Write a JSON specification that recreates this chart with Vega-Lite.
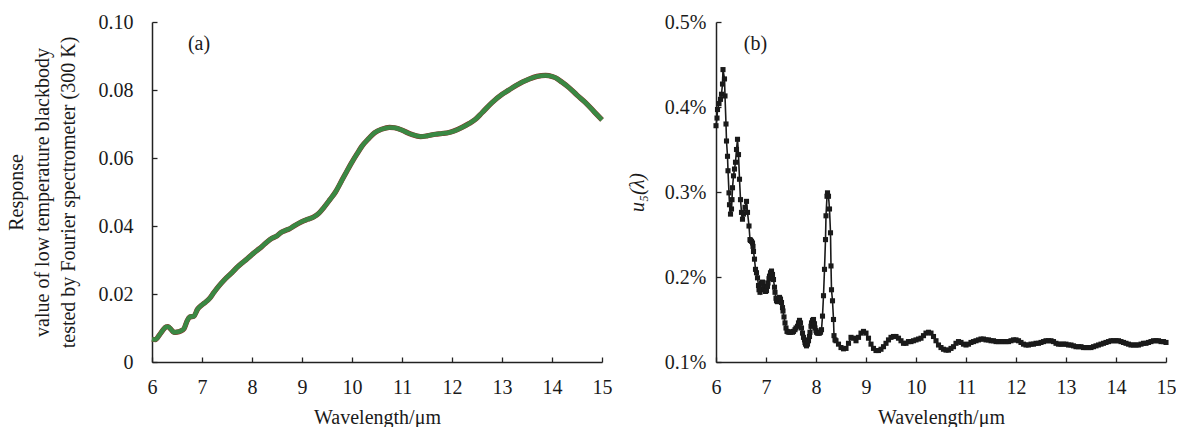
{
  "$schema": "https://vega.github.io/schema/vega-lite/v6.json",
  "padding": {"left": 6, "top": 12, "right": 0, "bottom": 0},
  "background": "white",
  "spacing": 14,
  "config": {
    "view": {"stroke": null},
    "font": "Liberation Serif",
    "axis": {
      "grid": false,
      "domainColor": "#222",
      "domainWidth": 1.5,
      "tickColor": "#222",
      "tickWidth": 1.3,
      "tickSize": -5,
      "labelFlush": false,
      "labelFont": "Liberation Serif",
      "labelFontSize": 20,
      "labelColor": "#1a1a1a",
      "titleFont": "Liberation Serif",
      "titleFontSize": 20,
      "titleFontWeight": "normal",
      "titleColor": "#1a1a1a"
    }
  },
  "datasets": {
    "resp": [
      {"lam": 6.00, "v": 0.0067}, {"lam": 6.07, "v": 0.0066}, {"lam": 6.15, "v": 0.0080}, {"lam": 6.22, "v": 0.0094},
      {"lam": 6.28, "v": 0.0103}, {"lam": 6.32, "v": 0.0104}, {"lam": 6.38, "v": 0.0096}, {"lam": 6.44, "v": 0.0087},
      {"lam": 6.50, "v": 0.0088}, {"lam": 6.57, "v": 0.0091}, {"lam": 6.64, "v": 0.0098}, {"lam": 6.70, "v": 0.0120},
      {"lam": 6.75, "v": 0.0132}, {"lam": 6.84, "v": 0.0135}, {"lam": 6.91, "v": 0.0155}, {"lam": 7.00, "v": 0.0168},
      {"lam": 7.07, "v": 0.0176}, {"lam": 7.14, "v": 0.0185}, {"lam": 7.24, "v": 0.0205}, {"lam": 7.34, "v": 0.0224},
      {"lam": 7.45, "v": 0.0242}, {"lam": 7.60, "v": 0.0263}, {"lam": 7.70, "v": 0.0278}, {"lam": 7.80, "v": 0.0291},
      {"lam": 7.90, "v": 0.0303}, {"lam": 8.00, "v": 0.0316}, {"lam": 8.10, "v": 0.0328}, {"lam": 8.20, "v": 0.0340},
      {"lam": 8.30, "v": 0.0353}, {"lam": 8.40, "v": 0.0364}, {"lam": 8.50, "v": 0.0371}, {"lam": 8.57, "v": 0.0380},
      {"lam": 8.65, "v": 0.0386}, {"lam": 8.74, "v": 0.0391}, {"lam": 8.85, "v": 0.0401}, {"lam": 9.00, "v": 0.0413},
      {"lam": 9.12, "v": 0.0420}, {"lam": 9.24, "v": 0.0427}, {"lam": 9.34, "v": 0.0438}, {"lam": 9.44, "v": 0.0455},
      {"lam": 9.55, "v": 0.0476}, {"lam": 9.67, "v": 0.0500}, {"lam": 9.80, "v": 0.0535}, {"lam": 9.90, "v": 0.0562},
      {"lam": 10.00, "v": 0.0588}, {"lam": 10.10, "v": 0.0612}, {"lam": 10.20, "v": 0.0635}, {"lam": 10.34, "v": 0.0658},
      {"lam": 10.45, "v": 0.0674}, {"lam": 10.60, "v": 0.0685}, {"lam": 10.75, "v": 0.0690}, {"lam": 10.85, "v": 0.0689},
      {"lam": 11.00, "v": 0.0682}, {"lam": 11.10, "v": 0.0675}, {"lam": 11.20, "v": 0.0669}, {"lam": 11.37, "v": 0.0663},
      {"lam": 11.50, "v": 0.0665}, {"lam": 11.67, "v": 0.0670}, {"lam": 11.80, "v": 0.0672}, {"lam": 11.94, "v": 0.0675},
      {"lam": 12.05, "v": 0.0680}, {"lam": 12.20, "v": 0.0690}, {"lam": 12.35, "v": 0.0702}, {"lam": 12.47, "v": 0.0714},
      {"lam": 12.60, "v": 0.0733}, {"lam": 12.80, "v": 0.0763}, {"lam": 13.00, "v": 0.0787}, {"lam": 13.14, "v": 0.0800},
      {"lam": 13.30, "v": 0.0815}, {"lam": 13.54, "v": 0.0832}, {"lam": 13.70, "v": 0.0840}, {"lam": 13.87, "v": 0.0843},
      {"lam": 14.00, "v": 0.0840}, {"lam": 14.07, "v": 0.0836}, {"lam": 14.20, "v": 0.0823}, {"lam": 14.34, "v": 0.0807},
      {"lam": 14.50, "v": 0.0785}, {"lam": 14.67, "v": 0.0763}, {"lam": 14.85, "v": 0.0735}, {"lam": 15.00, "v": 0.0712}
    ],
    "unc": [
      {"lam": 6.00, "u": 0.378}, {"lam": 6.02, "u": 0.387}, {"lam": 6.03, "u": 0.397}, {"lam": 6.06, "u": 0.404},
      {"lam": 6.09, "u": 0.409}, {"lam": 6.11, "u": 0.415}, {"lam": 6.13, "u": 0.427}, {"lam": 6.14, "u": 0.444},
      {"lam": 6.17, "u": 0.433}, {"lam": 6.18, "u": 0.413}, {"lam": 6.20, "u": 0.380}, {"lam": 6.21, "u": 0.360},
      {"lam": 6.23, "u": 0.342}, {"lam": 6.24, "u": 0.325}, {"lam": 6.26, "u": 0.299}, {"lam": 6.27, "u": 0.285},
      {"lam": 6.29, "u": 0.274}, {"lam": 6.31, "u": 0.280}, {"lam": 6.32, "u": 0.291}, {"lam": 6.33, "u": 0.305},
      {"lam": 6.35, "u": 0.319}, {"lam": 6.37, "u": 0.327}, {"lam": 6.39, "u": 0.335}, {"lam": 6.41, "u": 0.350},
      {"lam": 6.43, "u": 0.362}, {"lam": 6.45, "u": 0.344}, {"lam": 6.47, "u": 0.315}, {"lam": 6.49, "u": 0.291},
      {"lam": 6.51, "u": 0.276}, {"lam": 6.53, "u": 0.268}, {"lam": 6.55, "u": 0.274}, {"lam": 6.58, "u": 0.282},
      {"lam": 6.61, "u": 0.289}, {"lam": 6.63, "u": 0.276}, {"lam": 6.66, "u": 0.260}, {"lam": 6.68, "u": 0.244},
      {"lam": 6.69, "u": 0.243}, {"lam": 6.71, "u": 0.242}, {"lam": 6.73, "u": 0.240}, {"lam": 6.74, "u": 0.236},
      {"lam": 6.75, "u": 0.230}, {"lam": 6.77, "u": 0.221}, {"lam": 6.79, "u": 0.209}, {"lam": 6.81, "u": 0.205},
      {"lam": 6.83, "u": 0.199}, {"lam": 6.85, "u": 0.190}, {"lam": 6.86, "u": 0.185}, {"lam": 6.88, "u": 0.182},
      {"lam": 6.89, "u": 0.186}, {"lam": 6.91, "u": 0.193}, {"lam": 6.93, "u": 0.194}, {"lam": 6.94, "u": 0.193},
      {"lam": 6.96, "u": 0.188}, {"lam": 6.97, "u": 0.185}, {"lam": 6.99, "u": 0.183}, {"lam": 7.01, "u": 0.184},
      {"lam": 7.03, "u": 0.189}, {"lam": 7.04, "u": 0.193}, {"lam": 7.06, "u": 0.198}, {"lam": 7.07, "u": 0.201},
      {"lam": 7.09, "u": 0.205}, {"lam": 7.11, "u": 0.207}, {"lam": 7.13, "u": 0.203}, {"lam": 7.15, "u": 0.197},
      {"lam": 7.17, "u": 0.188}, {"lam": 7.18, "u": 0.182}, {"lam": 7.20, "u": 0.175}, {"lam": 7.21, "u": 0.172},
      {"lam": 7.23, "u": 0.171}, {"lam": 7.24, "u": 0.172}, {"lam": 7.26, "u": 0.174}, {"lam": 7.27, "u": 0.176},
      {"lam": 7.29, "u": 0.174}, {"lam": 7.31, "u": 0.170}, {"lam": 7.33, "u": 0.164}, {"lam": 7.34, "u": 0.160},
      {"lam": 7.36, "u": 0.153}, {"lam": 7.38, "u": 0.146}, {"lam": 7.40, "u": 0.140}, {"lam": 7.42, "u": 0.136},
      {"lam": 7.44, "u": 0.1355}, {"lam": 7.46, "u": 0.135}, {"lam": 7.49, "u": 0.135}, {"lam": 7.53, "u": 0.135},
      {"lam": 7.55, "u": 0.136}, {"lam": 7.58, "u": 0.138}, {"lam": 7.60, "u": 0.140}, {"lam": 7.63, "u": 0.142},
      {"lam": 7.65, "u": 0.146}, {"lam": 7.67, "u": 0.149}, {"lam": 7.69, "u": 0.146}, {"lam": 7.71, "u": 0.140},
      {"lam": 7.73, "u": 0.134}, {"lam": 7.75, "u": 0.129}, {"lam": 7.77, "u": 0.126}, {"lam": 7.78, "u": 0.123},
      {"lam": 7.79, "u": 0.121}, {"lam": 7.81, "u": 0.119}, {"lam": 7.83, "u": 0.121}, {"lam": 7.85, "u": 0.125},
      {"lam": 7.87, "u": 0.130}, {"lam": 7.88, "u": 0.135}, {"lam": 7.90, "u": 0.142}, {"lam": 7.91, "u": 0.146},
      {"lam": 7.93, "u": 0.149}, {"lam": 7.95, "u": 0.150}, {"lam": 7.97, "u": 0.145}, {"lam": 7.98, "u": 0.140},
      {"lam": 8.00, "u": 0.137}, {"lam": 8.01, "u": 0.135}, {"lam": 8.03, "u": 0.134}, {"lam": 8.05, "u": 0.134},
      {"lam": 8.07, "u": 0.134}, {"lam": 8.09, "u": 0.135}, {"lam": 8.11, "u": 0.138}, {"lam": 8.13, "u": 0.154},
      {"lam": 8.15, "u": 0.178}, {"lam": 8.17, "u": 0.209}, {"lam": 8.19, "u": 0.244}, {"lam": 8.20, "u": 0.272},
      {"lam": 8.22, "u": 0.295}, {"lam": 8.23, "u": 0.299}, {"lam": 8.25, "u": 0.295}, {"lam": 8.27, "u": 0.280},
      {"lam": 8.29, "u": 0.252}, {"lam": 8.30, "u": 0.213}, {"lam": 8.31, "u": 0.185}, {"lam": 8.33, "u": 0.172},
      {"lam": 8.35, "u": 0.150}, {"lam": 8.36, "u": 0.131}, {"lam": 8.38, "u": 0.126},
      {"lam": 8.40, "u": 0.125}, {"lam": 8.45, "u": 0.121}, {"lam": 8.50, "u": 0.117}, {"lam": 8.55, "u": 0.1155},
      {"lam": 8.60, "u": 0.116}, {"lam": 8.65, "u": 0.122}, {"lam": 8.70, "u": 0.129}, {"lam": 8.75, "u": 0.128},
      {"lam": 8.80, "u": 0.125}, {"lam": 8.85, "u": 0.129}, {"lam": 8.90, "u": 0.134}, {"lam": 8.95, "u": 0.136},
      {"lam": 9.00, "u": 0.134}, {"lam": 9.05, "u": 0.128}, {"lam": 9.10, "u": 0.121}, {"lam": 9.15, "u": 0.116},
      {"lam": 9.20, "u": 0.1135}, {"lam": 9.25, "u": 0.1135}, {"lam": 9.30, "u": 0.115}, {"lam": 9.35, "u": 0.118},
      {"lam": 9.40, "u": 0.122}, {"lam": 9.45, "u": 0.126}, {"lam": 9.50, "u": 0.129}, {"lam": 9.55, "u": 0.130},
      {"lam": 9.60, "u": 0.130}, {"lam": 9.65, "u": 0.128}, {"lam": 9.70, "u": 0.125}, {"lam": 9.75, "u": 0.122},
      {"lam": 9.80, "u": 0.122}, {"lam": 9.85, "u": 0.124}, {"lam": 9.90, "u": 0.124}, {"lam": 9.95, "u": 0.125},
      {"lam": 10.00, "u": 0.126}, {"lam": 10.05, "u": 0.127}, {"lam": 10.10, "u": 0.128}, {"lam": 10.15, "u": 0.131},
      {"lam": 10.20, "u": 0.134}, {"lam": 10.25, "u": 0.135}, {"lam": 10.30, "u": 0.134}, {"lam": 10.35, "u": 0.130},
      {"lam": 10.40, "u": 0.125}, {"lam": 10.45, "u": 0.120}, {"lam": 10.50, "u": 0.117}, {"lam": 10.55, "u": 0.115},
      {"lam": 10.60, "u": 0.114}, {"lam": 10.65, "u": 0.114}, {"lam": 10.70, "u": 0.116}, {"lam": 10.75, "u": 0.118},
      {"lam": 10.80, "u": 0.122}, {"lam": 10.85, "u": 0.124}, {"lam": 10.90, "u": 0.123}, {"lam": 10.95, "u": 0.121},
      {"lam": 11.00, "u": 0.120}, {"lam": 11.05, "u": 0.121}, {"lam": 11.10, "u": 0.123}, {"lam": 11.15, "u": 0.124},
      {"lam": 11.20, "u": 0.125}, {"lam": 11.25, "u": 0.126}, {"lam": 11.30, "u": 0.127}, {"lam": 11.35, "u": 0.127},
      {"lam": 11.40, "u": 0.126}, {"lam": 11.45, "u": 0.126}, {"lam": 11.50, "u": 0.125}, {"lam": 11.55, "u": 0.125},
      {"lam": 11.60, "u": 0.124}, {"lam": 11.65, "u": 0.124}, {"lam": 11.70, "u": 0.124}, {"lam": 11.75, "u": 0.124},
      {"lam": 11.80, "u": 0.124}, {"lam": 11.85, "u": 0.124}, {"lam": 11.90, "u": 0.125}, {"lam": 11.95, "u": 0.126},
      {"lam": 12.00, "u": 0.126}, {"lam": 12.05, "u": 0.125}, {"lam": 12.10, "u": 0.123}, {"lam": 12.15, "u": 0.121},
      {"lam": 12.20, "u": 0.120}, {"lam": 12.25, "u": 0.120}, {"lam": 12.30, "u": 0.121}, {"lam": 12.35, "u": 0.121},
      {"lam": 12.40, "u": 0.122}, {"lam": 12.45, "u": 0.122}, {"lam": 12.50, "u": 0.123}, {"lam": 12.55, "u": 0.124},
      {"lam": 12.60, "u": 0.125}, {"lam": 12.65, "u": 0.125}, {"lam": 12.70, "u": 0.125}, {"lam": 12.75, "u": 0.124},
      {"lam": 12.80, "u": 0.122}, {"lam": 12.85, "u": 0.121}, {"lam": 12.90, "u": 0.121}, {"lam": 12.95, "u": 0.121},
      {"lam": 13.00, "u": 0.121}, {"lam": 13.05, "u": 0.120}, {"lam": 13.10, "u": 0.120}, {"lam": 13.15, "u": 0.119},
      {"lam": 13.20, "u": 0.118}, {"lam": 13.25, "u": 0.118}, {"lam": 13.30, "u": 0.118}, {"lam": 13.35, "u": 0.117},
      {"lam": 13.40, "u": 0.117}, {"lam": 13.45, "u": 0.117}, {"lam": 13.50, "u": 0.117}, {"lam": 13.55, "u": 0.118},
      {"lam": 13.60, "u": 0.119}, {"lam": 13.65, "u": 0.120}, {"lam": 13.70, "u": 0.121}, {"lam": 13.75, "u": 0.122},
      {"lam": 13.80, "u": 0.123}, {"lam": 13.85, "u": 0.124}, {"lam": 13.90, "u": 0.125}, {"lam": 13.95, "u": 0.125},
      {"lam": 14.00, "u": 0.125}, {"lam": 14.05, "u": 0.125}, {"lam": 14.10, "u": 0.124}, {"lam": 14.15, "u": 0.123},
      {"lam": 14.20, "u": 0.122}, {"lam": 14.25, "u": 0.121}, {"lam": 14.30, "u": 0.120}, {"lam": 14.35, "u": 0.120},
      {"lam": 14.40, "u": 0.120}, {"lam": 14.45, "u": 0.120}, {"lam": 14.50, "u": 0.121}, {"lam": 14.55, "u": 0.122},
      {"lam": 14.60, "u": 0.122}, {"lam": 14.65, "u": 0.123}, {"lam": 14.70, "u": 0.124}, {"lam": 14.75, "u": 0.125},
      {"lam": 14.80, "u": 0.125}, {"lam": 14.85, "u": 0.125}, {"lam": 14.90, "u": 0.124}, {"lam": 14.95, "u": 0.124},
      {"lam": 15.00, "u": 0.123}
    ],
    "labelsA": [{"lam": 6.94, "v": 0.0934, "t": "(a)"}],
    "labelsB": [{"lam": 6.79, "u": 0.474, "t": "(b)"}]
  },
  "hconcat": [
    {
      "width": 450,
      "height": 340,
      "layer": [
        {
          "data": {"name": "resp"},
          "mark": {"type": "line", "color": "#8f2a2a", "strokeWidth": 5.2, "interpolate": "monotone"},
          "encoding": {
            "x": {"field": "lam", "type": "quantitative", "scale": {"domain": [6, 15]},
                  "axis": {"values": [6, 7, 8, 9, 10, 11, 12, 13, 14, 15], "labelPadding": 20, "title": "Wavelength/μm", "titlePadding": 10}},
            "y": {"field": "v", "type": "quantitative", "scale": {"domain": [0, 0.1]},
                  "axis": {"values": [0, 0.02, 0.04, 0.06, 0.08, 0.1], "labelExpr": "datum.value == 0 ? '0' : format(datum.value, '.2f')", "labelPadding": 24,
                           "title": ["Response", "value of low temperature blackbody", "tested by Fourier spectrometer (300 K)"], "titlePadding": 20, "titleLineHeight": 26}}
          }
        },
        {
          "data": {"name": "resp"},
          "mark": {"type": "line", "color": "#3a8843", "strokeWidth": 4.5, "interpolate": "monotone"},
          "encoding": {
            "x": {"field": "lam", "type": "quantitative"},
            "y": {"field": "v", "type": "quantitative"}
          }
        },
        {
          "data": {"name": "labelsA"},
          "mark": {"type": "text", "font": "Liberation Serif", "fontSize": 20, "color": "#1a1a1a"},
          "encoding": {
            "x": {"field": "lam", "type": "quantitative"},
            "y": {"field": "v", "type": "quantitative"},
            "text": {"field": "t"}
          }
        }
      ]
    },
    {
      "width": 450,
      "height": 340,
      "layer": [
        {
          "data": {"name": "unc"},
          "mark": {"type": "line", "color": "#1a1a1a", "strokeWidth": 1.6},
          "encoding": {
            "x": {"field": "lam", "type": "quantitative", "scale": {"domain": [6, 15]},
                  "axis": {"values": [6, 7, 8, 9, 10, 11, 12, 13, 14, 15], "labelPadding": 20, "title": "Wavelength/μm", "titlePadding": 10}},
            "y": {"field": "u", "type": "quantitative", "scale": {"domain": [0.1, 0.5]},
                  "axis": {"values": [0.1, 0.2, 0.3, 0.4, 0.5], "labelExpr": "format(datum.value, '.1f') + '%'", "labelPadding": 15,
                           "title": "u₅(λ)", "titleFontStyle": "italic", "titlePadding": 17}}
          }
        },
        {
          "data": {"name": "unc"},
          "mark": {"type": "point", "shape": "square", "filled": true, "color": "#1a1a1a", "size": 26, "opacity": 1},
          "encoding": {
            "x": {"field": "lam", "type": "quantitative"},
            "y": {"field": "u", "type": "quantitative"}
          }
        },
        {
          "data": {"name": "labelsB"},
          "mark": {"type": "text", "font": "Liberation Serif", "fontSize": 20, "color": "#1a1a1a"},
          "encoding": {
            "x": {"field": "lam", "type": "quantitative"},
            "y": {"field": "u", "type": "quantitative"},
            "text": {"field": "t"}
          }
        }
      ]
    }
  ]
}
